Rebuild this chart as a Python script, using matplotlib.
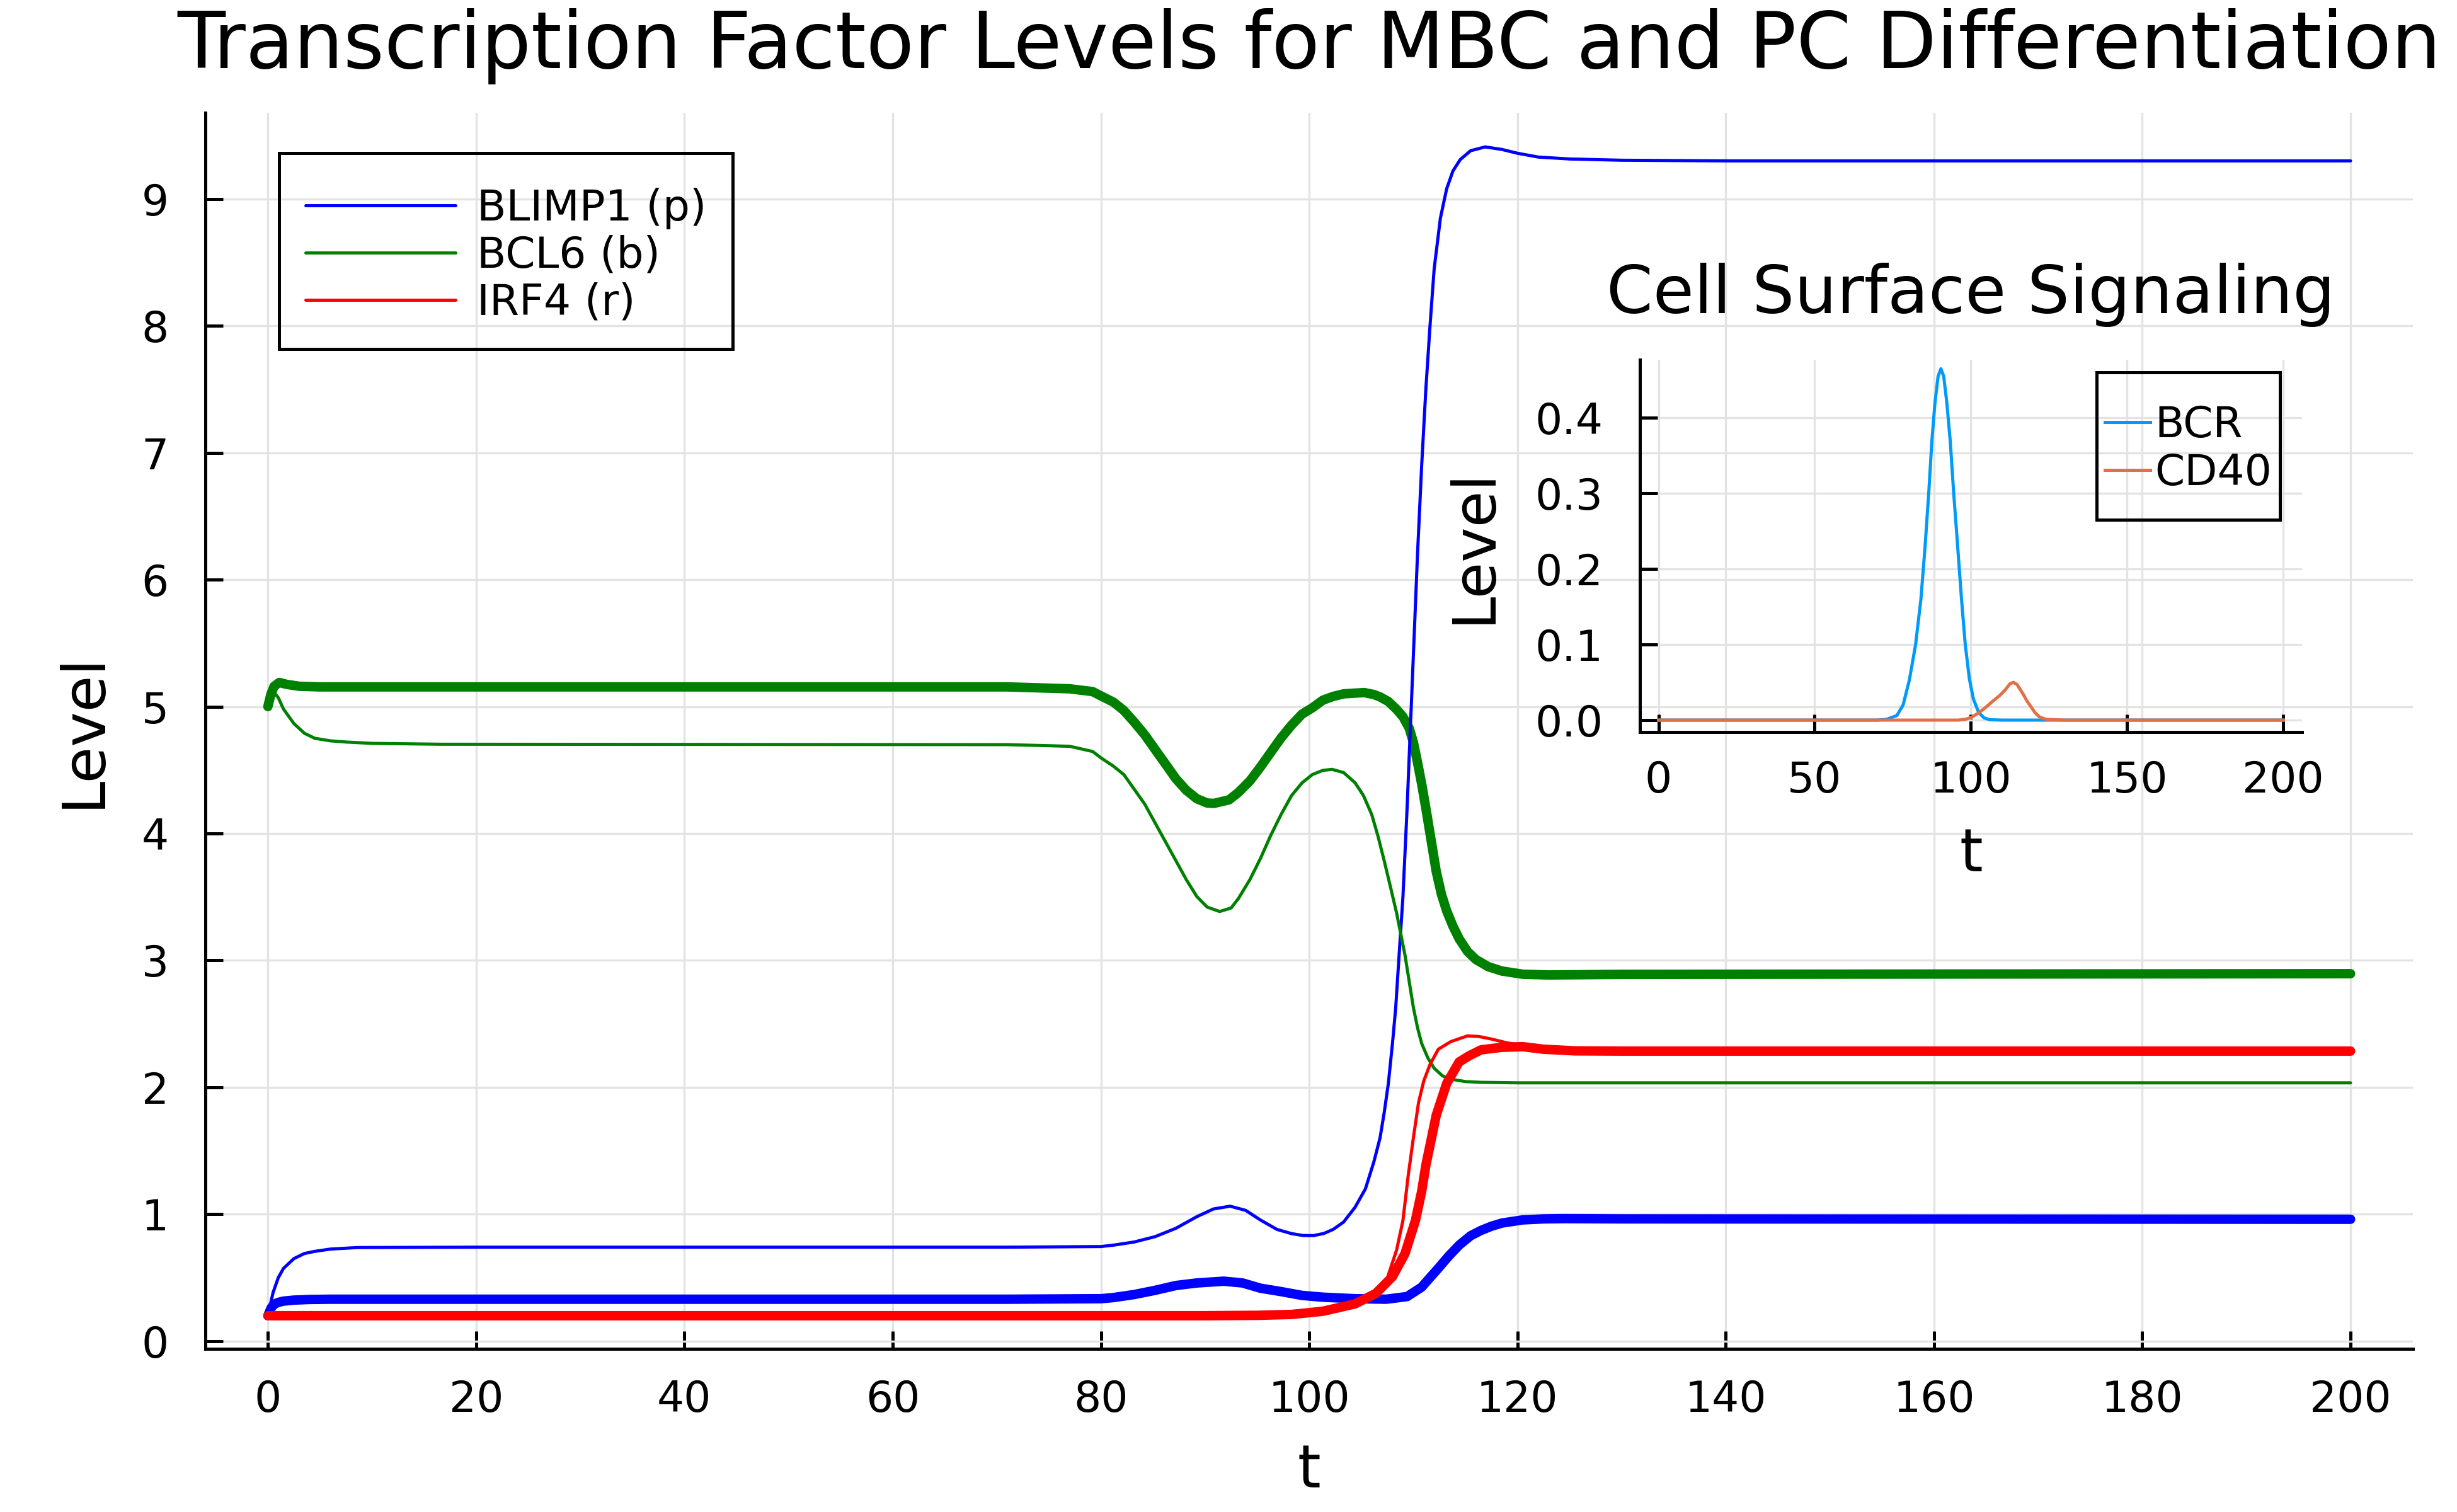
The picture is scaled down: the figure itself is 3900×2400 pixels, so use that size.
import matplotlib.pyplot as plt
from matplotlib.patches import Rectangle

# --- main panel: scenario 1 (thin lines, in legend) ---
t_p1 = [0, 0.5, 1.0, 1.5, 2.5, 3.5, 4.5, 6, 8.6, 20, 71, 80, 81.2, 83.2, 85.2, 87.2, 89.2,
        90.8, 92.4, 93.9, 95.3, 96.9, 98.3, 99.4, 100.4, 101.4, 102.3, 103.3, 104.4, 105.4,
        106.2, 106.8, 107.2, 107.6, 108.0, 108.3, 108.6, 109.0, 109.4, 109.7, 110.0, 110.4,
        110.8, 111.2, 111.6, 112.0, 112.6, 113.2, 113.8, 114.5, 115.5, 116.9, 118.5, 120,
        122, 125, 130, 140, 200]
p1 = [0.2, 0.383, 0.50, 0.573, 0.65, 0.69, 0.707, 0.725, 0.737, 0.74, 0.74, 0.745, 0.756,
      0.781, 0.823, 0.889, 0.98, 1.041, 1.063, 1.03, 0.955, 0.88, 0.847, 0.832, 0.831, 0.848,
      0.88, 0.938, 1.054, 1.20, 1.41, 1.60, 1.80, 2.03, 2.35, 2.62, 3.0, 3.5, 4.2, 4.8, 5.4,
      6.2, 6.9, 7.5, 8.0, 8.45, 8.85, 9.08, 9.22, 9.31, 9.38, 9.41, 9.39, 9.36, 9.33, 9.315,
      9.305, 9.30, 9.30]

t_b1 = [0, 0.3, 0.6, 1.0, 1.5, 2.5, 3.5, 4.5, 6, 7.6, 10, 16.6, 71, 77, 79.2, 80.0, 81.2,
        82.2, 83.2, 84.2, 85.2, 86.2, 87.2, 88.2, 89.2, 90.2, 91.4, 92.5, 93.2, 94.3, 95.3,
        96.3, 97.3, 98.3, 99.3, 100.3, 101.3, 102.2, 103.3, 104.4, 105.2, 106.0, 106.6,
        107.2, 107.8, 108.4, 109.2, 110.0, 110.4, 110.8, 111.4, 112.0, 112.8, 113.6, 115,
        116.5, 120, 200]
b1 = [5.0, 5.08, 5.11, 5.07, 4.98, 4.866, 4.79, 4.75, 4.73, 4.72, 4.71, 4.703, 4.70, 4.687,
      4.646, 4.596, 4.53, 4.464, 4.348, 4.232, 4.083, 3.934, 3.785, 3.636, 3.504, 3.42, 3.385,
      3.413, 3.487, 3.636, 3.80, 3.984, 4.15, 4.298, 4.398, 4.464, 4.497, 4.505, 4.48, 4.40,
      4.30, 4.15, 3.98, 3.785, 3.58, 3.37, 3.04, 2.63, 2.47, 2.345, 2.23, 2.15, 2.09, 2.064,
      2.045, 2.039, 2.035, 2.035]

t_r1 = [0, 20, 95, 100, 103, 105, 106.4, 107.4, 108.4, 109.0, 109.5, 110.0, 110.5, 111.0,
        111.6, 112.4, 113.6, 115.2, 116.3, 117.5, 119, 120.5, 122.5, 125, 130, 200]
r1 = [0.2, 0.2, 0.2, 0.225, 0.26, 0.31, 0.37, 0.47, 0.72, 0.95, 1.30, 1.60, 1.88, 2.05,
      2.18, 2.30, 2.36, 2.405, 2.40, 2.38, 2.35, 2.33, 2.31, 2.295, 2.285, 2.285]

# --- main panel: scenario 2 (thick lines, no legend) ---
t_p2 = [0, 0.3, 0.6, 1.0, 1.5, 2.5, 4, 6, 20, 71, 80, 81.2, 83.2, 85.2, 87.2, 89.2, 91.8,
        93.6, 95.3, 97.3, 98.3, 99.3, 101.3, 104.4, 107.4, 109.4, 110.8, 111.6, 112.4, 113.4,
        114.4, 115.5, 116.5, 117.5, 118.5, 120.5, 122.5, 124.5, 130, 200]
p2 = [0.2, 0.26, 0.29, 0.305, 0.315, 0.323, 0.328, 0.33, 0.33, 0.33, 0.334, 0.343, 0.367,
      0.40, 0.438, 0.458, 0.472, 0.458, 0.417, 0.39, 0.375, 0.36, 0.346, 0.334, 0.33, 0.351,
      0.425, 0.50, 0.574, 0.67, 0.756, 0.83, 0.872, 0.905, 0.93, 0.955, 0.963, 0.965, 0.963,
      0.96]

t_b2 = [0, 0.3, 0.6, 1.1, 1.8, 3, 5, 71, 77, 79.2, 80.0, 81.2, 82.2, 83.2, 84.2, 85.2, 86.2,
        87.2, 88.2, 89.2, 90.2, 90.85, 92.3, 93.2, 94.3, 95.3, 96.3, 97.3, 98.3, 99.3, 100.3,
        101.3, 102.3, 103.3, 104.4, 105.3, 106.2, 106.8, 107.6, 108.4, 109.0, 109.6, 110.0,
        110.4, 110.8, 111.2, 111.7, 112.2, 112.7, 113.2, 113.8, 114.4, 115.2, 116.0, 117.2,
        118.5, 120.5, 123, 130, 200]
b2 = [5.0, 5.10, 5.16, 5.19, 5.175, 5.16, 5.155, 5.155, 5.14, 5.118, 5.084, 5.035, 4.969,
      4.877, 4.778, 4.662, 4.547, 4.431, 4.34, 4.274, 4.24, 4.237, 4.265, 4.323, 4.414, 4.522,
      4.638, 4.753, 4.853, 4.94, 4.99, 5.05, 5.08, 5.10, 5.106, 5.11, 5.095, 5.076, 5.04,
      4.977, 4.92, 4.83, 4.72, 4.56, 4.39, 4.20, 3.95, 3.70, 3.52, 3.39, 3.27, 3.17, 3.07,
      3.007, 2.95, 2.916, 2.891, 2.885, 2.89, 2.895]

t_r2 = [0, 20, 90, 95, 98.3, 101.3, 104.4, 106.4, 108.0, 109.2, 110.2, 110.8, 111.2, 112.2,
        113.2, 114.4, 115.4, 116.5, 118.5, 120.5, 122.5, 125.5, 130, 200]
r2 = [0.2, 0.2, 0.2, 0.203, 0.21, 0.235, 0.293, 0.376, 0.508, 0.69, 0.95, 1.18, 1.385,
      1.78, 2.03, 2.20, 2.25, 2.295, 2.315, 2.32, 2.30, 2.287, 2.285, 2.285]

# --- inset: cell surface signals ---
t_bcr = [0, 70, 73, 76.3, 78.3, 80.3, 82.3, 84, 85.3, 86.5, 87.5, 88.5, 89.5, 90.4, 91.3,
         92.3, 93.4, 94.5, 95.8, 97.0, 98.2, 99.5, 100.8, 102.5, 104.2, 106, 110, 200]
bcr = [0, 0, 0.001, 0.006, 0.02, 0.053, 0.10, 0.16, 0.228, 0.30, 0.369, 0.42, 0.455, 0.465,
       0.455, 0.42, 0.369, 0.30, 0.228, 0.16, 0.10, 0.055, 0.028, 0.01, 0.003, 0.0005, 0, 0]

t_cd40 = [0, 96, 98.3, 100.3, 102.3, 104.5, 107, 109.2, 111, 112.5, 113.6, 114.8, 116.5,
          118, 119.2, 120.5, 122, 124.2, 130, 200]
cd40 = [0, 0, 0.001, 0.004, 0.009, 0.016, 0.025, 0.0324, 0.04, 0.048, 0.050, 0.047, 0.036,
        0.025, 0.018, 0.01, 0.004, 0.001, 0, 0]

labels = ["BLIMP1 (p)", "BCL6 (b)", "IRF4 (r)"]
x_ticks = list(range(0, 201, 20))
y_ticks = list(range(0, 10))
inset_x_ticks = [0, 50, 100, 150, 200]
inset_y_ticks = [0.0, 0.1, 0.2, 0.3, 0.4]

TICK_FS = 16.3
GUIDE_FS = 22.5
GRID_C = "#e3e3e3"
W, H = 3900, 2400


def style_axes(a, xpad, ypad):
    for s in ("top", "right"):
        a.spines[s].set_visible(False)
    for s in ("left", "bottom"):
        a.spines[s].set_linewidth(1.2)
    a.tick_params(direction="in", length=6.8, width=1.2, labelsize=TICK_FS)
    a.tick_params(axis="x", pad=xpad)
    a.tick_params(axis="y", pad=ypad)
    a.grid(True, color=GRID_C, lw=0.8)
    a.set_axisbelow(True)


def legend_box(fig, x0, y0, x1, y1, drop=7):
    # box given in pixel coords (top-left origin); entries sit a little below centre
    fig.patches.append(Rectangle((x0 / W, 1 - y1 / H), (x1 - x0) / W, (y1 - y0) / H,
                                 transform=fig.transFigure, fill=False, edgecolor="black",
                                 linewidth=1.2, zorder=10))
    return ((x0 + x1) / 2 / W, 1 - ((y0 + y1) / 2 + drop) / H)


fig = plt.figure(figsize=(13, 8), dpi=300)
ax = fig.add_axes([0.0836, 0.108, 0.8985, 0.8175])

thin = dict(lw=1.2, solid_capstyle="round", solid_joinstyle="round")
thick = dict(lw=3.6, solid_capstyle="round", solid_joinstyle="round")
ax.plot(t_b2, b2, color="#008000", zorder=2, **thick)
lp, = ax.plot(t_p1, p1, color="#0000ff", zorder=3, **thin)
lb, = ax.plot(t_b1, b1, color="#008000", zorder=3, **thin)
ax.plot(t_p2, p2, color="#0000ff", zorder=3.5, **thick)
lr, = ax.plot(t_r1, r1, color="#ff0000", zorder=4, **thin)
ax.plot(t_r2, r2, color="#ff0000", zorder=5, **thick)

ax.set_xlim(-6, 206)
ax.set_ylim(-0.06, 9.68)
ax.set_xticks(x_ticks)
ax.set_yticks(y_ticks)
style_axes(ax, 11.5, 14)
ax.set_xlabel("t", fontsize=GUIDE_FS)
ax.set_ylabel("Level", fontsize=GUIDE_FS)
ax.xaxis.set_label_coords(0.5, -0.0754)
ax.yaxis.set_label_coords(-0.042, 0.5)
ax.set_title("Transcription Factor Levels for MBC and PC Differentiation",
             fontsize=29.9, pad=17)

c_main = legend_box(fig, 443, 243, 1163, 554)
ax.legend([lp, lb, lr], labels, loc="center", bbox_to_anchor=c_main,
          bbox_transform=fig.transFigure, borderaxespad=0, fontsize=TICK_FS,
          handlelength=3.5, handletextpad=0.5, borderpad=0.1, labelspacing=0.13,
          frameon=False)

# inset
axi = fig.add_axes([0.6674, 0.5158, 0.2695, 0.2463])
axi.set_facecolor("none")
l1, = axi.plot(t_bcr, bcr, color="#009af9", lw=1.2)
l2, = axi.plot(t_cd40, cd40, color="#e26f46", lw=1.2)
axi.set_xlim(-6, 206)
axi.set_ylim(-0.0159, 0.477)
axi.set_xticks(inset_x_ticks)
axi.set_yticks(inset_y_ticks)
axi.set_yticklabels([f"{v:.1f}" for v in inset_y_ticks])
style_axes(axi, 10.6, 14)
axi.set_xlabel("t", fontsize=GUIDE_FS)
axi.set_ylabel("Level", fontsize=GUIDE_FS)
axi.xaxis.set_label_coords(0.5, -0.252)
axi.yaxis.set_label_coords(-0.2065, 0.5)
axi.set_title("Cell Surface Signaling", fontsize=25.4, pad=17.8)

c_inset = legend_box(fig, 3328, 591, 3619, 825, drop=5)
axi.legend([l1, l2], ["BCR", "CD40"], loc="center", bbox_to_anchor=c_inset,
           bbox_transform=fig.transFigure, fontsize=TICK_FS, handlelength=1.06,
           handletextpad=0.1, borderpad=0.1, labelspacing=0.15, frameon=False)

fig.savefig("out.png", dpi=300)
